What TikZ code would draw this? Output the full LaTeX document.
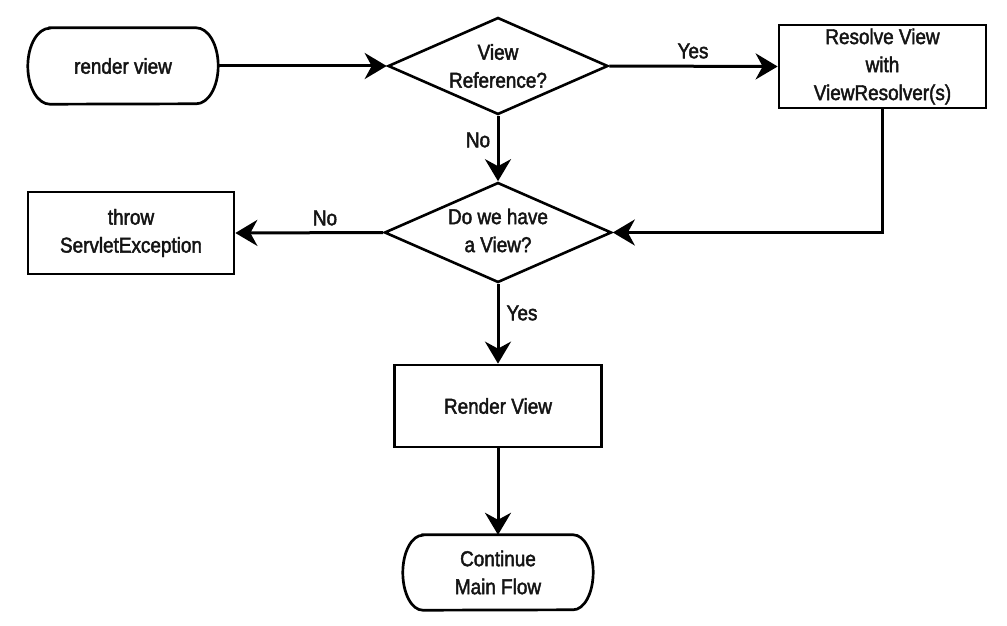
\documentclass[tikz,border=0pt]{standalone}
\usepackage{fontspec}
\setmainfont{Liberation Sans}[FakeStretch=0.88, FakeBold=2]
\usetikzlibrary{shapes.geometric,arrows.meta}
\begin{document}
\begin{tikzpicture}[x=1pt,y=-1pt,
  every node/.style={font=\fontsize{21.5}{28}\selectfont, text=black!92},
  box/.style={draw, line width=2.7pt, inner sep=0pt, align=center},
  term/.style={inner sep=0pt, align=center},
  dec/.style={draw, diamond, line width=2.6pt, aspect=2.27, minimum width=220pt, minimum height=97pt, inner sep=0pt, align=center},
  conn/.style={line width=3pt, -{Stealth[length=22pt,width=26pt,inset=7pt]}},
  outline/.style={line width=2.7pt},
  lbl/.style={inner sep=0pt},
]
\useasboundingbox[fill=white] (0,0) rectangle (1007,626);

% nodes
\node[term, minimum width=190pt, minimum height=76pt] (rv) at (123,66) {render view};
\node[dec] (d1) at (498,66) {View\\Reference?};
\node[box, minimum width=207pt, minimum height=83pt] (res) at (882.5,66.5) {Resolve View\\with\\ViewResolver(s)};
\node[dec] (d2) at (498,232.5) {\raisebox{-6pt}{\begin{tabular}{@{}c@{}}Do we have\\a View?\end{tabular}}};
\node[box, minimum width=206pt, minimum height=82pt] (thr) at (131,233) {throw\\ServletException};
\node[box, minimum width=207pt, minimum height=82pt] (rvw) at (498,406) {Render View};
\node[term, minimum width=190pt, minimum height=75pt] (cmf) at (498,572.5) {Continue\\Main Flow};

% terminal outlines
\draw[outline] ([xshift=22pt]rv.north west) -- ([xshift=-22pt]rv.north east)
  arc[start angle=90, end angle=-90, x radius=22pt, y radius=38pt]
  -- ([xshift=22pt]rv.south west)
  arc[start angle=270, end angle=90, x radius=22pt, y radius=38pt] -- cycle;
\draw[outline] ([xshift=20pt]cmf.north west) -- ([xshift=-20pt]cmf.north east)
  arc[start angle=90, end angle=-90, x radius=20pt, y radius=37.5pt]
  -- ([xshift=20pt]cmf.south west)
  arc[start angle=270, end angle=90, x radius=20pt, y radius=37.5pt] -- cycle;

% connectors
\draw[conn] (rv.east) -- (d1.west);
\draw[conn] (d1.east) -- (res.west);
\draw[conn] (d1.south) -- (d2.north);
\draw[conn] (res.south) |- (d2.east);
\draw[conn] (d2.west) -- (thr.east);
\draw[conn] (d2.south) -- (rvw.north);
\draw[conn] (rvw.south) -- (cmf.north);

% labels
\node[lbl] (l1) at (693,51) {Yes};
\node[lbl] (l2) at (478,140) {No};
\node[lbl] (l3) at (325,218) {No};
\node[lbl] (l4) at (522,313) {Yes};
\end{tikzpicture}
\end{document}
